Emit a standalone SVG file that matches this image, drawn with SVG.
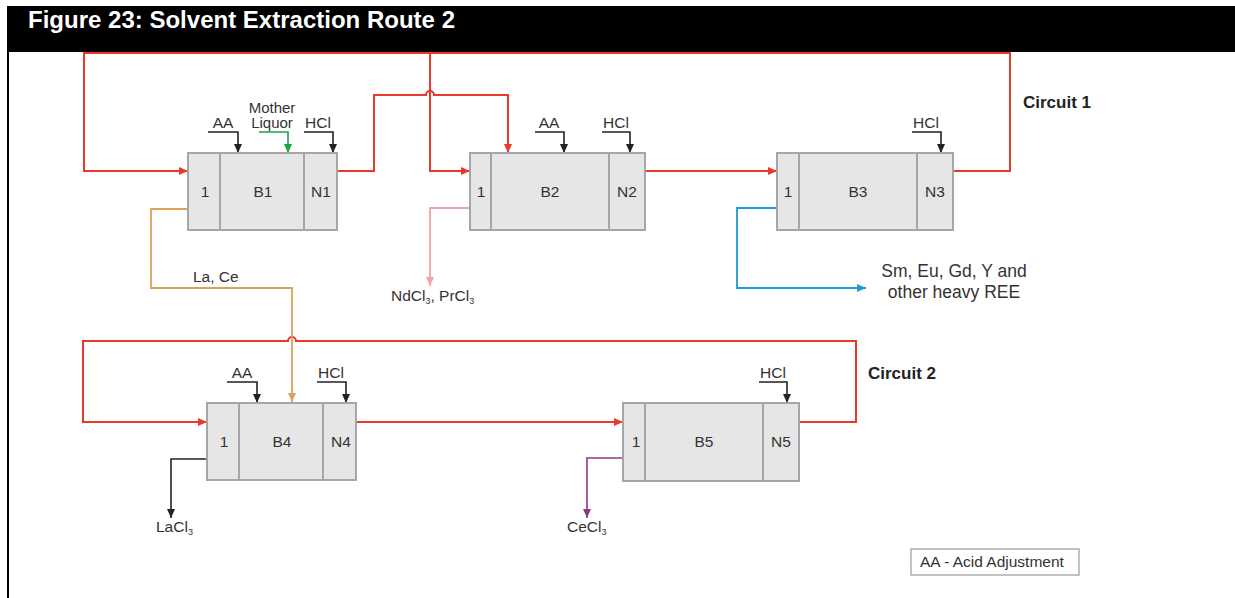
<svg xmlns="http://www.w3.org/2000/svg" width="1235" height="598" viewBox="0 0 1235 598">
<defs>
<style>
text{font-family:"Liberation Sans",Arial,sans-serif;fill:#333;}
.lbl{font-size:15.5px;text-anchor:middle;}
.t{font-size:15.5px;}
.circ{font-size:17px;font-weight:bold;fill:#222;}
.box{fill:#e6e6e6;stroke:#a6a6a6;stroke-width:2;}
.div{stroke:#a6a6a6;stroke-width:2;}
.red{fill:none;stroke:#e8392b;stroke-width:2;}
.blk{fill:none;stroke:#222;stroke-width:1.6;}
.sub{font-size:9px;}
</style>
<marker id="ar" markerUnits="userSpaceOnUse" markerWidth="9" markerHeight="8" refX="9" refY="4" orient="auto"><path d="M0,0 L9,4 L0,8 z" fill="#e8392b"/></marker>
<marker id="ak" markerUnits="userSpaceOnUse" markerWidth="9" markerHeight="8" refX="9" refY="4" orient="auto"><path d="M0,0 L9,4 L0,8 z" fill="#222"/></marker>
<marker id="ag" markerUnits="userSpaceOnUse" markerWidth="9" markerHeight="8" refX="9" refY="4" orient="auto"><path d="M0,0 L9,4 L0,8 z" fill="#1aa34a"/></marker>
<marker id="at" markerUnits="userSpaceOnUse" markerWidth="9" markerHeight="8" refX="9" refY="4" orient="auto"><path d="M0,0 L9,4 L0,8 z" fill="#d9a35a"/></marker>
<marker id="ap" markerUnits="userSpaceOnUse" markerWidth="9" markerHeight="8" refX="9" refY="4" orient="auto"><path d="M0,0 L9,4 L0,8 z" fill="#f2a3a8"/></marker>
<marker id="ab" markerUnits="userSpaceOnUse" markerWidth="9" markerHeight="8" refX="9" refY="4" orient="auto"><path d="M0,0 L9,4 L0,8 z" fill="#1b9bd7"/></marker>
<marker id="am" markerUnits="userSpaceOnUse" markerWidth="9" markerHeight="8" refX="9" refY="4" orient="auto"><path d="M0,0 L9,4 L0,8 z" fill="#8c3b7e"/></marker>
</defs>
<rect width="1235" height="598" fill="#fff"/>
<g id="header">
<rect x="7" y="6" width="1228" height="46" fill="#000"/>
<rect x="7" y="50" width="2" height="548" fill="#000"/>
<text x="28" y="28" style="font-size:23px;font-weight:bold;fill:#fff" textLength="427" lengthAdjust="spacingAndGlyphs">Figure 23: Solvent Extraction Route 2</text>
</g>
<g id="connectors">
<path class="red" d="M953,171 H1010 V53 H84 V171 H188" marker-end="url(#ar)"/>
<path class="red" d="M430,53 V171 H470" marker-end="url(#ar)"/>
<path class="red" d="M337,171 H374 V95 H426 a4,4 0 0 1 8,0 H508 V153" marker-end="url(#ar)"/>
<path class="red" d="M645,171 H777" marker-end="url(#ar)"/>
<path class="red" d="M799,422 H856 V341 H296 a4,4 0 0 0 -8,0 H83 V422 H207" marker-end="url(#ar)"/>
<path class="red" d="M356,422 H623" marker-end="url(#ar)"/>
<path class="blk" d="M208,132 H238 V153" marker-end="url(#ak)"/>
<path fill="none" stroke="#1aa34a" stroke-width="1.6" d="M259,132 H288 V153" marker-end="url(#ag)"/>
<path class="blk" d="M304,132 H333 V153" marker-end="url(#ak)"/>
<path class="blk" d="M535,132 H564 V153" marker-end="url(#ak)"/>
<path class="blk" d="M602,132 H630 V153" marker-end="url(#ak)"/>
<path class="blk" d="M912,132 H941 V153" marker-end="url(#ak)"/>
<path class="blk" d="M227,382 H257 V403" marker-end="url(#ak)"/>
<path class="blk" d="M317,382 H346 V403" marker-end="url(#ak)"/>
<path class="blk" d="M759,382 H787 V403" marker-end="url(#ak)"/>
<path fill="none" stroke="#d9a35a" stroke-width="1.8" d="M188,209 H151 V288 H292 V402" marker-end="url(#at)"/>
<path fill="none" stroke="#f2a3a8" stroke-width="1.8" d="M470,208 H430 V286" marker-end="url(#ap)"/>
<path fill="none" stroke="#1b9bd7" stroke-width="1.8" d="M777,208 H737 V288 H866" marker-end="url(#ab)"/>
<path class="blk" d="M207,459 H171 V518" marker-end="url(#ak)"/>
<path fill="none" stroke="#8c3b7e" stroke-width="1.6" d="M623,458 H587 V518" marker-end="url(#am)"/>
</g>
<g id="B1">
<rect class="box" x="188" y="153" width="149" height="77"/>
<line class="div" x1="220" y1="153" x2="220" y2="230"/>
<line class="div" x1="304" y1="153" x2="304" y2="230"/>
<text class="lbl" x="205" y="197">1</text>
<text class="lbl" x="263" y="197">B1</text>
<text class="lbl" x="321" y="197">N1</text>
<text class="lbl" x="223" y="128">AA</text>
<text class="lbl" x="272" y="112.5" style="font-size:15px">Mother</text>
<text class="lbl" x="272" y="128" style="font-size:15px">Liquor</text>
<text class="lbl" x="318" y="128">HCl</text>
</g>
<g id="B2">
<rect class="box" x="470" y="153" width="175" height="77"/>
<line class="div" x1="491" y1="153" x2="491" y2="230"/>
<line class="div" x1="609" y1="153" x2="609" y2="230"/>
<text class="lbl" x="481" y="197">1</text>
<text class="lbl" x="550" y="197">B2</text>
<text class="lbl" x="627" y="197">N2</text>
<text class="lbl" x="549" y="128">AA</text>
<text class="lbl" x="616" y="128">HCl</text>
</g>
<g id="B3">
<rect class="box" x="777" y="153" width="176" height="77"/>
<line class="div" x1="799" y1="153" x2="799" y2="230"/>
<line class="div" x1="917" y1="153" x2="917" y2="230"/>
<text class="lbl" x="788" y="197">1</text>
<text class="lbl" x="858" y="197">B3</text>
<text class="lbl" x="935" y="197">N3</text>
<text class="lbl" x="926" y="128">HCl</text>
</g>
<g id="B4">
<rect class="box" x="207" y="403" width="149" height="77"/>
<line class="div" x1="239" y1="403" x2="239" y2="480"/>
<line class="div" x1="323" y1="403" x2="323" y2="480"/>
<text class="lbl" x="224" y="447">1</text>
<text class="lbl" x="282" y="447">B4</text>
<text class="lbl" x="341" y="447">N4</text>
<text class="lbl" x="242" y="378">AA</text>
<text class="lbl" x="331" y="378">HCl</text>
</g>
<g id="B5">
<rect class="box" x="623" y="403" width="176" height="78"/>
<line class="div" x1="645" y1="403" x2="645" y2="481"/>
<line class="div" x1="763" y1="403" x2="763" y2="481"/>
<text class="lbl" x="636" y="447">1</text>
<text class="lbl" x="704" y="447">B5</text>
<text class="lbl" x="781" y="447">N5</text>
<text class="lbl" x="773" y="378">HCl</text>
</g>
<g id="labels">
<text class="circ" x="1023" y="108">Circuit 1</text>
<text class="circ" x="868" y="379">Circuit 2</text>
<text class="t" x="193" y="282">La, Ce</text>
<text class="t" x="391" y="301">NdCl<tspan class="sub" dy="3">3</tspan><tspan dy="-3">, PrCl</tspan><tspan class="sub" dy="3">3</tspan></text>
<text class="lbl" x="954" y="277" style="font-size:17.5px">Sm, Eu, Gd, Y and</text>
<text class="lbl" x="954" y="298" style="font-size:17.5px">other heavy REE</text>
<text class="t" x="156" y="532">LaCl<tspan class="sub" dy="3">3</tspan></text>
<text class="t" x="567" y="532">CeCl<tspan class="sub" dy="3">3</tspan></text>
</g>
<g id="legend">
<rect x="911" y="549" width="168" height="26" fill="#fff" stroke="#999" stroke-width="1.2"/>
<text class="t" x="920" y="567">AA - Acid Adjustment</text>
</g>
</svg>
